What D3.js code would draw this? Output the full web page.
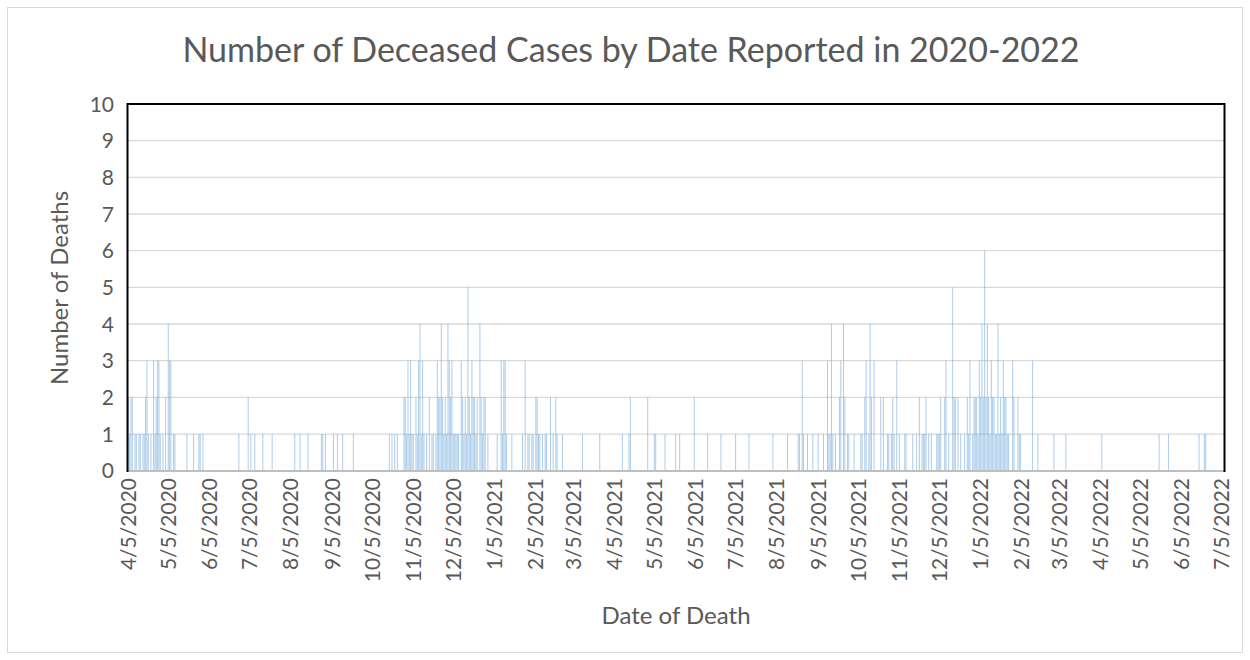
<!DOCTYPE html>
<html>
<head>
<meta charset="utf-8">
<script src="https://cdn.jsdelivr.net/npm/d3@7"></script>
<style>
  body { margin: 0; background: #fff; }
  text { font-family: Lato, "Open Sans", sans-serif; fill: #595959; }
</style>
</head>
<body>
<svg id="chart" width="1250" height="660"></svg>
<script>
// Days with at least one death (all other days are 0)
const deathDates = [
  '4/5/2020','4/6/2020','4/7/2020','4/8/2020','4/10/2020','4/11/2020','4/13/2020','4/14/2020','4/16/2020','4/17/2020',
  '4/18/2020','4/19/2020','4/20/2020','4/22/2020','4/24/2020','4/25/2020','4/26/2020','4/27/2020','4/28/2020','4/29/2020',
  '5/1/2020','5/3/2020','5/5/2020','5/6/2020','5/7/2020','5/9/2020','5/10/2020','5/19/2020','5/24/2020','5/28/2020',
  '5/29/2020','5/31/2020','6/27/2020','7/4/2020','7/6/2020','7/9/2020','7/15/2020','7/22/2020','8/8/2020','8/12/2020',
  '8/18/2020','8/28/2020','8/29/2020','8/31/2020','9/6/2020','9/9/2020','9/13/2020','9/21/2020',
  '10/18/2020','10/20/2020','10/22/2020','10/24/2020','10/29/2020','10/30/2020','10/31/2020','11/1/2020','11/2/2020','11/3/2020',
  '11/4/2020','11/5/2020','11/7/2020','11/8/2020','11/9/2020','11/10/2020','11/11/2020','11/12/2020','11/13/2020','11/15/2020',
  '11/17/2020','11/19/2020','11/20/2020','11/22/2020','11/23/2020','11/24/2020','11/25/2020','11/26/2020','11/27/2020','11/28/2020',
  '11/29/2020','11/30/2020','12/1/2020','12/2/2020','12/3/2020','12/4/2020','12/5/2020','12/6/2020','12/7/2020','12/8/2020',
  '12/9/2020','12/11/2020','12/12/2020','12/13/2020','12/14/2020','12/15/2020','12/16/2020','12/17/2020','12/18/2020','12/19/2020',
  '12/20/2020','12/21/2020','12/22/2020','12/23/2020','12/25/2020','12/26/2020','12/27/2020','12/28/2020','12/29/2020','12/31/2020',
  '1/7/2021','1/10/2021','1/11/2021','1/12/2021','1/13/2021','1/14/2021','1/18/2021','1/26/2021','1/28/2021','1/30/2021',
  '1/31/2021','2/2/2021','2/3/2021','2/5/2021','2/6/2021','2/7/2021','2/8/2021','2/10/2021','2/12/2021','2/13/2021',
  '2/16/2021','2/18/2021','2/20/2021','2/21/2021','2/25/2021','3/12/2021','3/25/2021','4/11/2021','4/16/2021','4/17/2021',
  '4/30/2021','5/5/2021','5/6/2021','5/13/2021','5/21/2021','5/24/2021','6/4/2021','6/14/2021','6/24/2021','7/5/2021',
  '7/15/2021','8/2/2021','8/13/2021',
  '8/21/2021','8/22/2021','8/24/2021','8/25/2021','8/28/2021','9/1/2021','9/5/2021','9/9/2021','9/12/2021','9/13/2021',
  '9/14/2021','9/15/2021','9/16/2021','9/18/2021','9/21/2021','9/22/2021','9/24/2021','9/25/2021','9/27/2021','9/28/2021',
  '10/2/2021','10/7/2021','10/8/2021','10/10/2021','10/11/2021','10/13/2021','10/14/2021','10/15/2021','10/17/2021','10/22/2021',
  '10/24/2021','10/27/2021','10/28/2021','10/30/2021','10/31/2021','11/1/2021','11/3/2021','11/5/2021','11/9/2021','11/10/2021',
  '11/15/2021','11/18/2021','11/20/2021','11/22/2021','11/23/2021','11/24/2021','11/25/2021','11/27/2021','11/29/2021','12/3/2021',
  '12/4/2021','12/5/2021','12/6/2021','12/9/2021','12/10/2021','12/12/2021','12/15/2021','12/16/2021','12/17/2021','12/19/2021',
  '12/21/2021','12/24/2021','12/26/2021','12/27/2021','12/28/2021','12/30/2021','12/31/2021','1/1/2022','1/2/2022','1/3/2022',
  '1/4/2022','1/5/2022','1/6/2022','1/7/2022','1/8/2022','1/9/2022','1/10/2022','1/11/2022','1/12/2022','1/13/2022',
  '1/14/2022','1/15/2022','1/16/2022','1/17/2022','1/18/2022','1/19/2022','1/20/2022','1/21/2022','1/22/2022','1/23/2022',
  '1/24/2022','1/25/2022','1/26/2022','1/29/2022','1/30/2022','2/2/2022','2/3/2022','2/4/2022','2/13/2022','2/17/2022',
  '3/1/2022','3/10/2022','4/6/2022','5/19/2022','5/26/2022','6/18/2022','6/22/2022','6/23/2022'
]
const deathCounts = [
  2,1,2,2,1,1,1,1,1,1,
  2,3,1,1,3,1,2,3,3,1,
  1,2,4,3,3,1,1,1,1,1,
  1,1,1,2,1,1,1,1,1,1,
  1,1,1,1,1,1,1,1,
  1,1,1,1,2,2,1,3,1,3,
  1,1,2,1,3,4,1,3,1,1,
  2,1,1,1,3,2,2,4,2,1,
  2,1,4,3,2,3,1,1,1,1,
  1,3,2,1,2,1,5,2,1,3,
  2,2,1,2,4,2,1,2,2,1,
  1,3,1,3,3,1,1,1,3,1,
  1,1,1,2,2,1,1,1,1,1,
  2,1,2,1,1,1,1,1,1,2,
  2,1,1,1,1,1,2,1,1,1,
  1,1,1,
  1,1,3,1,1,1,1,1,3,1,
  1,4,1,1,2,3,4,2,1,1,
  1,1,1,2,3,1,4,2,3,2,
  2,1,1,1,2,1,3,1,1,1,
  1,1,2,1,1,1,2,1,1,1,
  1,1,2,2,3,1,5,2,2,2,
  1,1,2,1,3,1,2,2,2,1,
  3,2,4,2,6,2,4,2,1,3,
  2,2,1,1,4,1,2,1,3,2,
  2,1,1,3,2,2,1,1,3,1,
  1,1,1,1,1,1,1,1
]

const yTicks = [0,1,2,3,4,5,6,7,8,9,10]
const xTickLabels = [
  '4/5/2020','5/5/2020','6/5/2020','7/5/2020','8/5/2020','9/5/2020','10/5/2020','11/5/2020','12/5/2020',
  '1/5/2021','2/5/2021','3/5/2021','4/5/2021','5/5/2021','6/5/2021','7/5/2021','8/5/2021','9/5/2021',
  '10/5/2021','11/5/2021','12/5/2021','1/5/2022','2/5/2022','3/5/2022','4/5/2022','5/5/2022','6/5/2022','7/5/2022'
]

const parseDate = d3.timeParse('%-m/%-d/%Y')

const data = deathDates.map((d, i) => ({date: parseDate(d), value: deathCounts[i]}))

const svg = d3.select('#chart')

// outer chart frame
svg.append('rect')
  .attr('x', 7.5).attr('y', 7.5)
  .attr('width', 1235).attr('height', 645)
  .attr('fill', 'white')
  .attr('stroke', '#d9d9d9')

const plotLeft = 127.5, plotRight = 1224.5, plotTop = 104, plotBottom = 471

var x = d3.scaleTime()
  .domain([parseDate('4/5/2020'), parseDate('7/5/2022')])
  .range([128.3, 1221.7])

var y = d3.scaleLinear()
  .domain([0, 10])
  .range([470.7, 104])

// gridlines
svg.append('g')
  .selectAll('line')
  .data(yTicks.slice(1, -1))
  .enter()
  .append('line')
  .attr('x1', plotLeft).attr('x2', plotRight)
  .attr('y1', d => y(d)).attr('y2', d => y(d))
  .attr('stroke', '#d9d9d9')
  .attr('stroke-width', 1.3)

// bars, one per day
svg.append('g')
  .selectAll('rect')
  .data(data)
  .enter()
  .append('rect')
  .attr('x', d => x(d.date) - 0.5)
  .attr('width', 1)
  .attr('y', d => y(d.value))
  .attr('height', d => y(0) - y(d.value))
  .attr('fill', '#5b9bd5')
  .attr('fill-opacity', 0.5)

// plot area border
svg.append('rect')
  .attr('x', plotLeft).attr('y', plotTop)
  .attr('width', plotRight - plotLeft).attr('height', plotBottom - plotTop)
  .attr('fill', 'none')
  .attr('stroke', 'black')
  .attr('stroke-width', 2)

// x axis line (gray over the border)
svg.append('line')
  .attr('x1', plotLeft + 1).attr('x2', plotRight - 1)
  .attr('y1', plotBottom).attr('y2', plotBottom)
  .attr('stroke', '#bfbfbf')
  .attr('stroke-width', 2)

// y tick labels
svg.append('g')
  .selectAll('text')
  .data(yTicks)
  .enter()
  .append('text')
  .attr('x', 114)
  .attr('y', d => y(d))
  .attr('dy', '0.36em')
  .attr('text-anchor', 'end')
  .style('font-size', '21px')
  .text(d => d)

// x tick labels, rotated
svg.append('g')
  .selectAll('text')
  .data(xTickLabels)
  .enter()
  .append('text')
  .attr('transform', d => 'translate(' + x(parseDate(d)) + ',478) rotate(-90)')
  .attr('dy', '0.36em')
  .attr('text-anchor', 'end')
  .style('font-size', '21px')
  .text(d => d)

// title and axis titles
svg.append('text')
  .attr('x', 631).attr('y', 62)
  .attr('text-anchor', 'middle')
  .style('font-size', '34px')
  .text('Number of Deceased Cases by Date Reported in 2020-2022')

svg.append('text')
  .attr('transform', 'translate(68,288) rotate(-90)')
  .attr('text-anchor', 'middle')
  .style('font-size', '24px')
  .text('Number of Deaths')

svg.append('text')
  .attr('x', 676).attr('y', 624)
  .attr('text-anchor', 'middle')
  .style('font-size', '24px')
  .text('Date of Death')
</script>
</body>
</html>
